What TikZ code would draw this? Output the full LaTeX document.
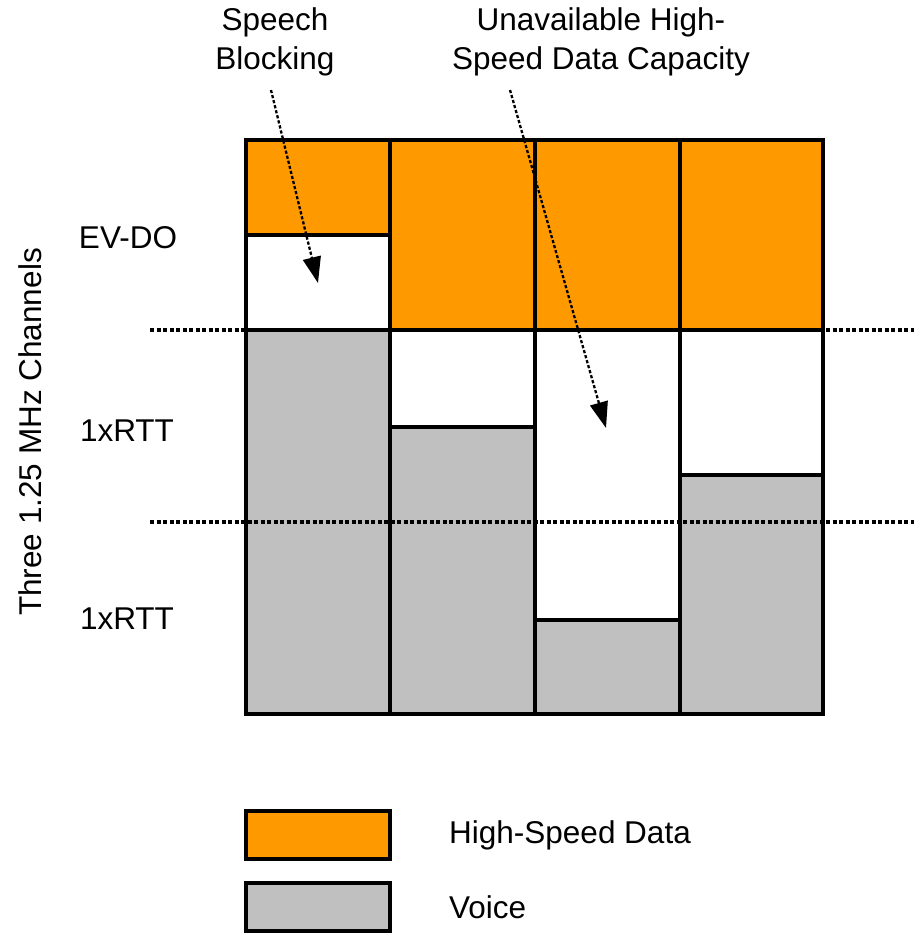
\documentclass[tikz,border=0pt]{standalone}
\usepackage{fontspec}
\setmainfont{Liberation Sans}
\usetikzlibrary{arrows.meta}
\definecolor{hsdorange}{RGB}{255,153,0}
\definecolor{voicegrey}{RGB}{192,192,192}
\begin{document}
\begin{tikzpicture}[x=1pt,y=-1pt,
  cell/.style={draw=black,line width=4pt,line join=miter},
  data/.style={cell,fill=hsdorange},
  voice/.style={cell,fill=voicegrey},
  free/.style={cell,fill=white},
  label/.style={font=\fontsize{31.5}{39}\selectfont,inner sep=0pt,align=center},
  guide/.style={line width=3.2pt,dash pattern=on 4pt off 2.5pt},
  pointer/.style={line width=2.3pt,dash pattern=on 3.2pt off 2pt,
    -{Triangle[length=26pt,width=18pt]}}]
\useasboundingbox (0,0) rectangle (914,935);

% column 1
\draw[data]  (246,140) rectangle (390,235);
\draw[free]  (246,235) rectangle (390,330);
\draw[voice] (246,330) rectangle (390,714);
% column 2
\draw[data]  (390,140) rectangle (535,330);
\draw[free]  (390,330) rectangle (535,427);
\draw[voice] (390,427) rectangle (535,714);
% column 3
\draw[data]  (535,140) rectangle (680,330);
\draw[free]  (535,330) rectangle (680,620);
\draw[voice] (535,620) rectangle (680,714);
% column 4
\draw[data]  (680,140) rectangle (823,330);
\draw[free]  (680,330) rectangle (823,475);
\draw[voice] (680,475) rectangle (823,714);

% channel boundaries
\coordinate (g1w) at (150,330);
\coordinate (g1e) at (914,330);
\coordinate (g2w) at (150,522);
\coordinate (g2e) at (914,522);
\draw[guide] (g1w) -- (g1e);
\draw[guide] (g2w) -- (g2e);

% column outlines redrawn over the guides
\foreach \x in {246,390,535,680,823} \draw[line width=4pt] (\x,140) -- (\x,714);
\draw[line width=4pt] (246,714) -- (823,714);

% channel labels
\node[label] (evdo) at (128,238) {EV-DO};
\node[label] (rtta) at (127,431) {1xRTT};
\node[label] (rttb) at (127,619) {1xRTT};
\node[label,rotate=90] (axis) at (30,432) {Three 1.25 MHz Channels};

% annotations
\node[label] (speech) at (275,42) {Speech\\Blocking};
\node[label] (unavail) at (601,42) {Unavailable High-\\Speed Data Capacity};
\coordinate (sa) at (271,90);
\coordinate (sb) at (318,283);
\coordinate (ua) at (510,90);
\coordinate (ub) at (606,428);
\draw[pointer] (sa) -- (sb);
\draw[pointer] (ua) -- (ub);

% legend
\draw[data]  (246,811) rectangle (390,859);
\draw[voice] (246,883) rectangle (390,931);
\node[label,anchor=west] (lgdata) at (449,835) {High-Speed Data};
\node[label,anchor=west] (lgvoice) at (449,907) {Voice};
\end{tikzpicture}
\end{document}
